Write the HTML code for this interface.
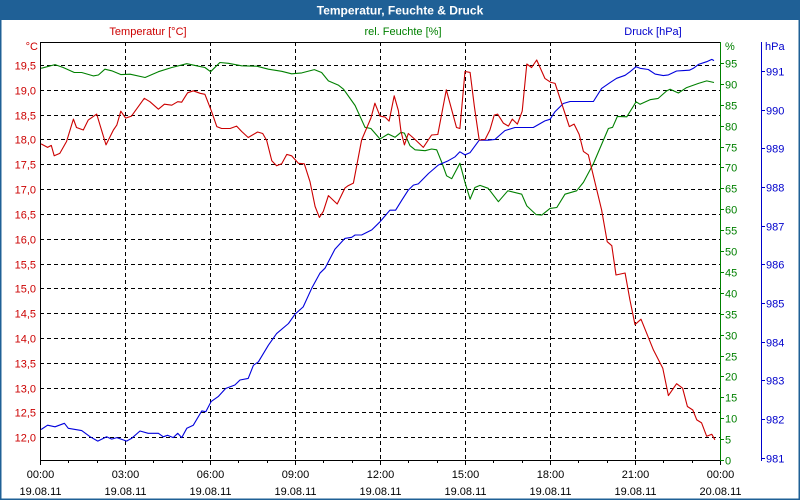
<!DOCTYPE html>
<html><head><meta charset="utf-8">
<style>
html,body{margin:0;padding:0;background:#fff;}
#wrap{position:relative;width:800px;height:500px;overflow:hidden;font-family:"Liberation Sans",sans-serif;}
svg text{font-family:"Liberation Sans",sans-serif;}
</style></head>
<body>
<div id="wrap">
<svg id="chart" width="800" height="500" viewBox="0 0 800 500">
  <rect x="0" y="0" width="800" height="500" fill="#ffffff"/>
  <rect x="0" y="0" width="800" height="20" fill="#1f6096"/>
  <rect x="0.5" y="0.5" width="799" height="499" fill="none" stroke="#1f6096" stroke-width="2"/>
  <text x="400" y="14.5" text-anchor="middle" fill="#ffffff" font-size="12" font-weight="bold">Temperatur, Feuchte &amp; Druck</text>
  <text x="148" y="35" text-anchor="middle" fill="#cc0000" font-size="11">Temperatur [°C]</text>
  <text x="403" y="35" text-anchor="middle" fill="#008000" font-size="11">rel. Feuchte [%]</text>
  <text x="653" y="35" text-anchor="middle" fill="#0000cc" font-size="11">Druck [hPa]</text>
  <text x="38" y="50" text-anchor="end" fill="#cc0000" font-size="11">°C</text>
  <text x="725" y="50" fill="#008000" font-size="11">%</text>
  <text x="765" y="50" fill="#0000cc" font-size="11">hPa</text>
  <g id="grid"></g>
  <g id="axes"></g>
  <g id="series"></g>
</svg>
</div>
<script>
// ---- data ----
const xTickLabels = ["00:00","03:00","06:00","09:00","12:00","15:00","18:00","21:00","00:00"];
const xDateLabels = ["19.08.11","19.08.11","19.08.11","19.08.11","19.08.11","19.08.11","19.08.11","19.08.11","20.08.11"];
const tempTicks = [12.0,12.5,13.0,13.5,14.0,14.5,15.0,15.5,16.0,16.5,17.0,17.5,18.0,18.5,19.0,19.5];
const humTicks = [0,5,10,15,20,25,30,35,40,45,50,55,60,65,70,75,80,85,90,95];
const presTicks = [981,982,983,984,985,986,987,988,989,990,991];

const tempHours = [0.04,0.27,0.4,0.5,0.7,0.94,1.18,1.29,1.53,1.7,2.0,2.33,2.59,2.71,2.85,3.02,3.23,3.68,3.88,4.18,4.39,4.65,4.86,5.0,5.21,5.41,5.65,5.82,6.04,6.24,6.41,6.71,6.94,7.12,7.35,7.68,7.86,8.0,8.18,8.35,8.53,8.71,8.88,9.12,9.33,9.53,9.71,9.86,10.0,10.18,10.49,10.76,10.88,11.06,11.35,11.68,11.82,12.0,12.18,12.32,12.5,12.65,12.74,12.86,13.0,13.24,13.53,13.82,14.04,14.34,14.7,14.82,15.0,15.18,15.33,15.5,15.71,15.88,16.03,16.15,16.35,16.53,16.67,16.85,17.02,17.18,17.35,17.53,17.82,18.03,18.18,18.41,18.68,18.85,19.03,19.18,19.35,19.82,20.02,20.18,20.33,20.65,20.82,21.0,21.21,21.41,21.65,21.98,22.18,22.47,22.68,22.85,23.04,23.18,23.35,23.53,23.71,23.82];
const tempValues = [17.91,17.84,17.88,17.67,17.72,17.96,18.41,18.24,18.19,18.39,18.51,17.89,18.19,18.29,18.57,18.43,18.47,18.83,18.76,18.61,18.71,18.69,18.76,18.75,18.94,18.98,18.93,18.91,18.59,18.26,18.22,18.22,18.27,18.16,18.04,18.15,18.12,17.98,17.57,17.47,17.51,17.70,17.67,17.52,17.51,17.15,16.65,16.43,16.55,16.87,16.70,17.02,17.07,17.12,17.99,18.43,18.73,18.47,18.45,18.37,18.88,18.58,18.16,17.89,18.12,18.0,17.84,18.09,18.10,19.0,18.24,18.22,19.37,19.35,18.66,17.99,18.0,18.19,18.49,18.51,18.33,18.27,18.41,18.31,18.57,19.52,19.45,19.60,19.23,19.15,19.13,18.73,18.26,18.31,18.10,17.76,17.69,16.58,15.94,15.86,15.27,15.31,14.77,14.27,14.38,14.10,13.76,13.39,12.84,13.08,12.99,12.62,12.55,12.35,12.29,12.02,12.06,11.95];

const humHours = [0.04,0.53,0.82,1.21,1.47,1.88,2.06,2.29,2.53,2.86,3.18,3.71,4.18,4.65,5.18,5.59,5.82,6.02,6.35,6.65,7.12,7.65,8.06,8.53,8.88,9.24,9.68,9.94,10.18,10.53,10.71,11.12,11.47,11.68,12.0,12.29,12.53,12.74,12.86,13.06,13.24,13.59,13.82,14.0,14.18,14.35,14.53,14.82,15.0,15.18,15.35,15.53,15.82,16.18,16.51,17.0,17.18,17.51,17.71,18.0,18.24,18.53,18.94,19.18,19.53,20.06,20.21,20.38,20.71,21.04,21.18,21.53,21.82,22.12,22.24,22.53,22.82,23.24,23.53,23.79];
const humValues = [93.7,94.6,93.9,92.7,92.7,91.9,92.1,93.5,93.1,92.2,92.3,91.5,92.9,93.9,94.8,94.2,93.9,92.9,95.1,94.9,94.3,94.2,93.5,93.0,92.4,92.6,93.4,92.7,90.7,89.7,88.7,84.8,79.6,79.3,76.8,78.0,77.2,78.4,78.2,75.2,74.2,74.0,74.4,74.2,71.2,68.0,67.3,71.0,66.4,62.4,65.2,65.7,65.0,61.8,64.4,63.6,60.8,58.7,58.6,60.2,60.4,63.6,64.4,66.4,70.9,79.3,79.6,82.2,82.1,85.7,85.1,86.2,86.5,88.3,88.7,87.8,89.1,90.1,90.7,90.3];

const presHours = [0.04,0.27,0.53,0.86,1.0,1.47,1.77,2.04,2.35,2.53,2.71,3.06,3.23,3.53,3.82,4.18,4.35,4.5,4.7,4.86,5.0,5.18,5.41,5.71,5.85,6.04,6.29,6.55,6.88,7.06,7.35,7.53,7.71,8.06,8.35,8.77,9.0,9.29,9.59,9.88,10.06,10.41,10.76,11.0,11.12,11.35,11.71,12.0,12.35,12.55,12.77,13.0,13.18,13.35,13.71,14.06,14.41,14.65,14.82,15.0,15.18,15.5,15.82,16.06,16.41,16.76,17.41,17.82,18.0,18.18,18.47,18.71,19.18,19.53,19.82,20.12,20.35,20.65,20.82,21.04,21.18,21.47,21.71,22.0,22.18,22.47,22.71,22.92,23.06,23.24,23.53,23.71,23.79];
const presValues = [981.73,981.84,981.80,981.89,981.76,981.70,981.54,981.43,981.54,981.48,981.52,981.43,981.50,981.69,981.63,981.63,981.54,981.58,981.52,981.63,981.52,981.76,981.84,982.21,982.19,982.45,982.58,982.79,982.88,983.01,983.05,983.39,983.48,983.91,984.21,984.47,984.71,984.90,985.38,985.77,985.90,986.39,986.67,986.70,986.76,986.76,986.89,987.10,987.40,987.40,987.66,987.92,988.05,988.08,988.35,988.57,988.68,988.78,988.91,988.83,988.89,989.21,989.21,989.23,989.46,989.54,989.54,989.71,989.75,989.95,990.16,990.21,990.21,990.21,990.55,990.70,990.81,990.89,990.98,991.11,991.07,991.04,990.92,990.88,990.90,991.00,991.01,991.02,991.07,991.17,991.24,991.30,991.27];

// ---- scales ----
const X0 = 40, X1 = 720, YT = 42, YB = 460;
const xOf = h => X0 + (h / 24) * (X1 - X0);
const tempY = t => 437.3 - (t - 12.0) * 49.64;
const humY = v => YB - v * (YB - YT) / 100;
const presY = p => 457.7 - (p - 981) * 38.67;

const NS = "http://www.w3.org/2000/svg";
function mk(tag, attrs, parent) {
  const e = document.createElementNS(NS, tag);
  for (const k in attrs) e.setAttribute(k, attrs[k]);
  parent.appendChild(e);
  return e;
}
const grid = document.getElementById("grid");
const axes = document.getElementById("axes");
const series = document.getElementById("series");

// horizontal grid + temp labels
tempTicks.forEach(t => {
  const y = Math.round(tempY(t)) + 0.5;
  const l = mk("line", {x1: X0, x2: X1, y1: y, y2: y, stroke: "#000", "stroke-width": 1, "stroke-dasharray": "4,3"}, grid);
  
  
  const tx = mk("text", {x: 36, y: y + 4, "text-anchor": "end", fill: "#cc0000", "font-size": 11}, axes);
  tx.textContent = t.toFixed(1).replace(".", ",");
  
  
});
// vertical grid + x labels
xTickLabels.forEach((lab, i) => {
  const x = Math.round(xOf(i * 3)) + 0.5;
  if (i > 0 && i < 8) {
    const l = mk("line", {x1: x, x2: x, y1: YT, y2: YB, stroke: "#000", "stroke-width": 1, "stroke-dasharray": "4,3"}, grid);
    
    
  }
  const t1 = mk("text", {x: x, y: 478, "text-anchor": "middle", fill: "#000", "font-size": 11}, axes);
  t1.textContent = lab;
  
  
  const t2 = mk("text", {x: x, y: 495, "text-anchor": "middle", fill: "#000", "font-size": 11}, axes);
  t2.textContent = xDateLabels[i];
  
  
});
for (let h = 0; h <= 24; h++) {
  const x = Math.round(xOf(h)) + 0.5;
  const tk = mk("line", {x1: x, x2: x, y1: YB, y2: YB + (h % 3 === 0 ? 5 : 3), stroke: "#000"}, axes);
  
  
}
// humidity axis
humTicks.forEach(v => {
  const y = Math.round(humY(v)) + 0.5;
  const tk = mk("line", {x1: X1, x2: X1 + 4, y1: y, y2: y, stroke: "#008000"}, axes);
  
  
  const tx = mk("text", {x: X1 + 5, y: y + 4, fill: "#008000", "font-size": 11}, axes);
  tx.textContent = v;
  
  
});
// pressure axis
presTicks.forEach(p => {
  const y = Math.round(presY(p)) + 0.5;
  const tk = mk("line", {x1: 761, x2: 765, y1: y, y2: y, stroke: "#0000cc"}, axes);
  
  
  const tx = mk("text", {x: 766, y: y + 4, fill: "#0000cc", "font-size": 11}, axes);
  tx.textContent = p;
  
  
});
// axis lines
const a1 = mk("path", {d: `M${X0+0.5},${YT} V${YB+0.5} H${X1}`, fill: "none", stroke: "#000"}, axes);


const a2 = mk("line", {x1: X0, x2: X1, y1: YT + 0.5, y2: YT + 0.5, stroke: "#000"}, axes);


const a3 = mk("line", {x1: X1 + 0.5, x2: X1 + 0.5, y1: YT, y2: YB + 1, stroke: "#008000"}, axes);


const a4 = mk("line", {x1: 761.5, x2: 761.5, y1: YT, y2: YB + 1, stroke: "#0000cc"}, axes);



function line(hours, vals, yf, color, name) {
  const d = hours.map((h, i) => (i ? "L" : "M") + xOf(h).toFixed(1) + "," + yf(vals[i]).toFixed(1)).join(" ");
  const p = mk("path", {d: d, fill: "none", stroke: color, "stroke-width": 1.1, "stroke-linejoin": "round"}, series);
  
  
}
line(humHours, humValues, humY, "#008000", "humidity-line");
line(presHours, presValues, presY, "#0000dd", "pressure-line");
line(tempHours, tempValues, tempY, "#cc0000", "temperature-line");
</script>
</body></html>
